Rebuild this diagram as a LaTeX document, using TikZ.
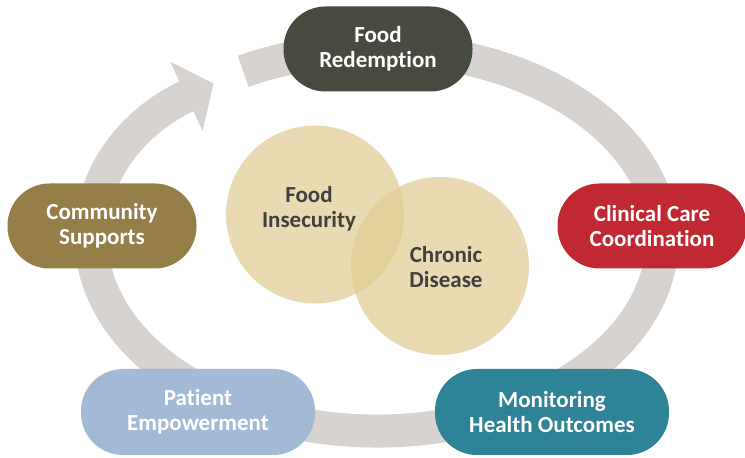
\documentclass[tikz,border=0pt]{standalone}
\usepackage{fontspec}
\setmainfont{Carlito}[Ligatures=NoCommon]
\usetikzlibrary{arrows.meta}

\definecolor{ringgray}{RGB}{214,211,208}
\definecolor{redeemgreen}{RGB}{71,74,62}
\definecolor{communitybrown}{RGB}{150,126,72}
\definecolor{clinicalred}{RGB}{192,41,50}
\definecolor{patientblue}{RGB}{162,186,214}
\definecolor{monitorteal}{RGB}{46,131,150}
\definecolor{blobtan}{RGB}{225,203,145}
\definecolor{textgray}{RGB}{64,64,64}

\begin{document}
\begin{tikzpicture}[
        x=1pt,y=1pt,
        pill/.style={rectangle,rounded corners=42pt,minimum width=189pt,minimum height=85pt,text=white,align=center,font=\fontsize{23}{25}\selectfont\bfseries},
        widepill/.style={pill,minimum width=234pt,minimum height=86pt},
        blob/.style={circle,fill=blobtan,fill opacity=0.7,minimum size=178pt,inner sep=0pt},
        blobtext/.style={text=textgray,align=center,font=\fontsize{23}{25}\selectfont\bfseries},
        ring/.style={draw=ringgray,line width=33pt,-{Triangle[width=75pt,length=30pt]}}
    ]
        \useasboundingbox (0,0) rectangle (745,458);

        % The cycle ring with its arrow
        \coordinate (hub) at (377,218);
        \draw [ring] ([shift={(118:285 and 191)}]hub) arc[start angle=118,end angle=-235,x radius=285,y radius=191];

        % The two overlapping circles
        \node[blob] (insecurity) at (315,243.5) {};
        \node[blob] (disease) at (440,192) {};
        \node[blobtext] (insecuritytext) at (309,249) {Food\\Insecurity};
        \node[blobtext] (diseasetext) at (446,191) {Chronic\\Disease};

        % The stages round the cycle
        \node[pill,fill=redeemgreen] (redeem) at (378,409) {Food\\Redemption};
        \node[pill,fill=communitybrown] (community) at (102,232) {Community\\Supports};
        \node[pill,fill=clinicalred] (clinical) at (652,232) {Clinical Care\\Coordination};
        \node[widepill,fill=patientblue] (patient) at (198,46) {Patient\\Empowerment};
        \node[widepill,fill=monitorteal] (monitor) at (552,46) {Monitoring\\Health Outcomes};
    \end{tikzpicture}
\end{document}
